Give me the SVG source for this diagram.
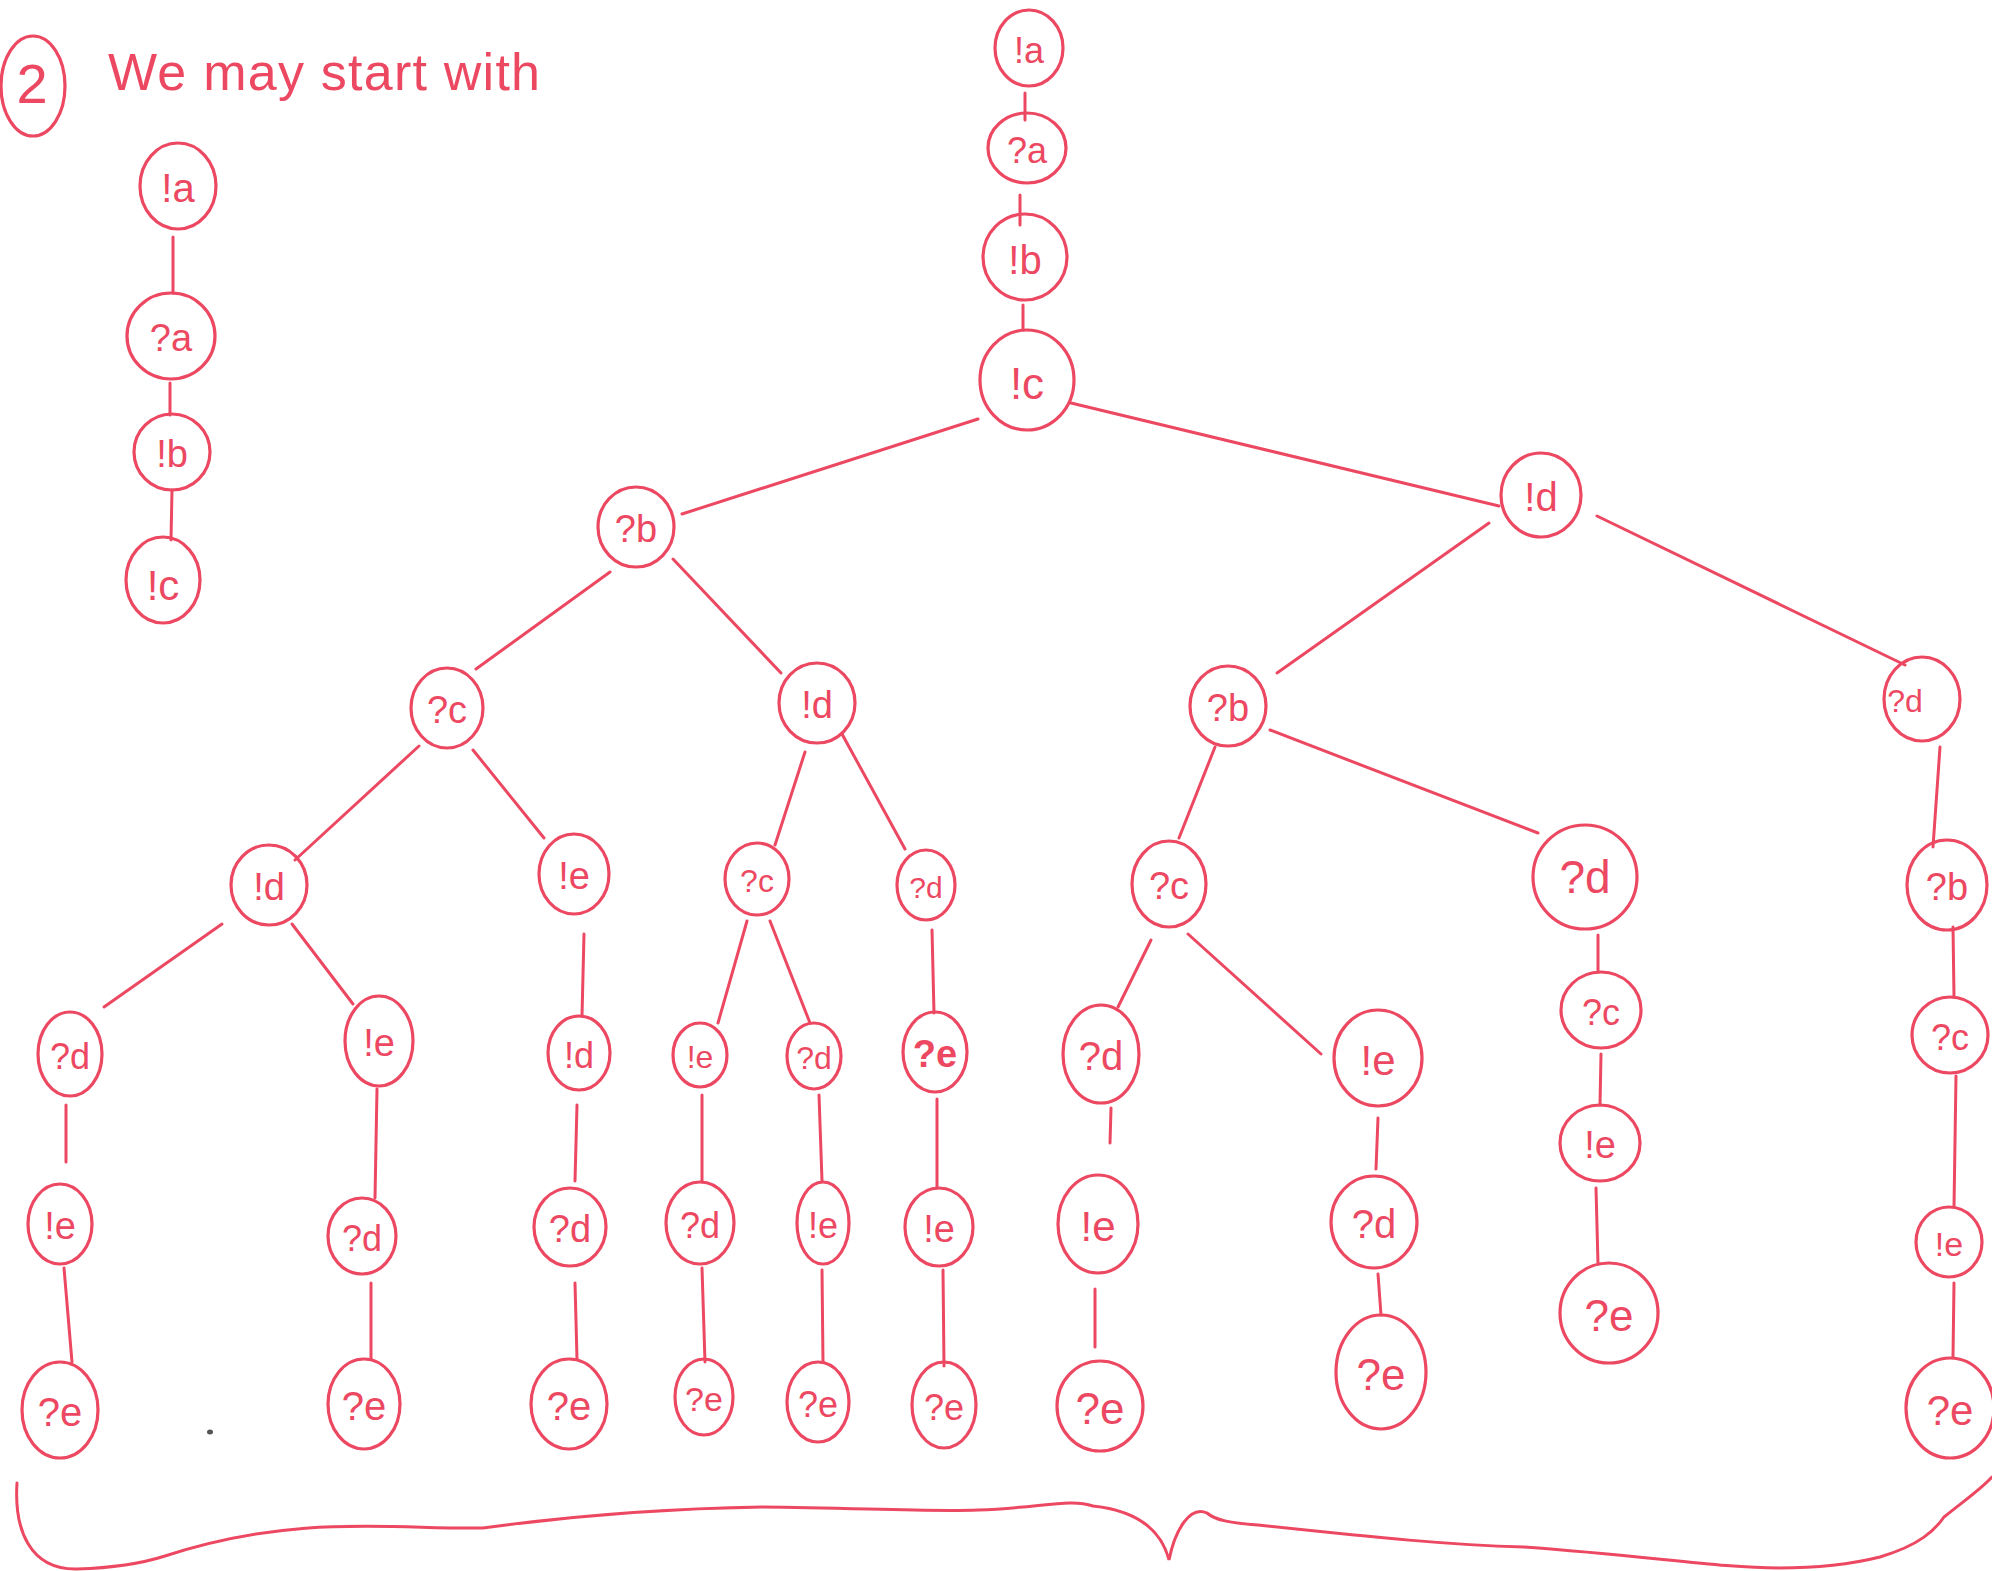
<svg xmlns="http://www.w3.org/2000/svg" width="1992" height="1571" viewBox="0 0 1992 1571">
<style>
.n{fill:none;stroke:#ec4862;stroke-width:3.2}
.e{fill:none;stroke:#ec4862;stroke-width:3;stroke-linecap:round}
.t{font-family:"Liberation Sans","DejaVu Sans",sans-serif;fill:#ec4862;text-anchor:middle;dominant-baseline:central}
</style>
<rect width="1992" height="1571" fill="#ffffff"/>
<g id="title">
<ellipse class="n" cx="33" cy="86" rx="32" ry="50"/>
<text class="t" x="32" y="83" font-size="56">2</text>
<text x="108" y="90" font-size="52" textLength="432" lengthAdjust="spacing" style="font-family:'Liberation Sans','DejaVu Sans',sans-serif;fill:#ec4862">We may start with</text>
</g>
<g id="connectors">
<line class="e" x1="173" y1="237" x2="173" y2="293"/>
<line class="e" x1="170" y1="383" x2="170" y2="415"/>
<line class="e" x1="172" y1="490" x2="171" y2="540"/>
<line class="e" x1="1025" y1="93" x2="1025" y2="120"/>
<line class="e" x1="1020" y1="195" x2="1020" y2="225"/>
<line class="e" x1="1023" y1="305" x2="1023" y2="330"/>
<line class="e" x1="978" y1="419" x2="682" y2="514"/>
<line class="e" x1="1071" y1="403" x2="1499" y2="506"/>
<line class="e" x1="610" y1="572" x2="476" y2="669"/>
<line class="e" x1="673" y1="559" x2="781" y2="673"/>
<line class="e" x1="1489" y1="523" x2="1277" y2="673"/>
<line class="e" x1="1597" y1="516" x2="1905" y2="665"/>
<line class="e" x1="419" y1="746" x2="295" y2="860"/>
<line class="e" x1="473" y1="750" x2="544" y2="838"/>
<line class="e" x1="805" y1="752" x2="775" y2="845"/>
<line class="e" x1="842" y1="734" x2="905" y2="849"/>
<line class="e" x1="1215" y1="747" x2="1179" y2="838"/>
<line class="e" x1="1270" y1="730" x2="1538" y2="833"/>
<line class="e" x1="1940" y1="747" x2="1933" y2="847"/>
<line class="e" x1="222" y1="924" x2="104" y2="1007"/>
<line class="e" x1="292" y1="924" x2="353" y2="1004"/>
<line class="e" x1="584" y1="934" x2="582" y2="1016"/>
<line class="e" x1="747" y1="921" x2="718" y2="1023"/>
<line class="e" x1="770" y1="921" x2="810" y2="1023"/>
<line class="e" x1="932" y1="930" x2="934" y2="1013"/>
<line class="e" x1="1151" y1="940" x2="1118" y2="1007"/>
<line class="e" x1="1188" y1="934" x2="1321" y2="1054"/>
<line class="e" x1="1598" y1="935" x2="1598" y2="972"/>
<line class="e" x1="1953" y1="927" x2="1954" y2="997"/>
<line class="e" x1="66" y1="1105" x2="66" y2="1162"/>
<line class="e" x1="377" y1="1089" x2="375" y2="1198"/>
<line class="e" x1="577" y1="1105" x2="575" y2="1181"/>
<line class="e" x1="702" y1="1095" x2="702" y2="1181"/>
<line class="e" x1="819" y1="1095" x2="822" y2="1181"/>
<line class="e" x1="937" y1="1099" x2="937" y2="1188"/>
<line class="e" x1="1111" y1="1108" x2="1110" y2="1143"/>
<line class="e" x1="1378" y1="1118" x2="1376" y2="1169"/>
<line class="e" x1="1601" y1="1054" x2="1600" y2="1105"/>
<line class="e" x1="1956" y1="1076" x2="1954" y2="1207"/>
<line class="e" x1="64" y1="1268" x2="72" y2="1362"/>
<line class="e" x1="371" y1="1283" x2="371" y2="1359"/>
<line class="e" x1="575" y1="1283" x2="577" y2="1359"/>
<line class="e" x1="702" y1="1268" x2="705" y2="1362"/>
<line class="e" x1="822" y1="1270" x2="823" y2="1362"/>
<line class="e" x1="943" y1="1270" x2="944" y2="1366"/>
<line class="e" x1="1095" y1="1289" x2="1095" y2="1347"/>
<line class="e" x1="1378" y1="1274" x2="1381" y2="1315"/>
<line class="e" x1="1596" y1="1188" x2="1598" y2="1264"/>
<line class="e" x1="1954" y1="1283" x2="1953" y2="1357"/>
</g>
<g id="L_a1"><ellipse class="n" cx="178" cy="186" rx="38" ry="43"/><text class="t" x="178" y="188" font-size="40">!a</text></g>
<g id="L_a2"><ellipse class="n" cx="171" cy="336" rx="44" ry="43"/><text class="t" x="171" y="338" font-size="38">?a</text></g>
<g id="L_b1"><ellipse class="n" cx="172" cy="452" rx="38" ry="38"/><text class="t" x="172" y="454" font-size="38">!b</text></g>
<g id="L_c1"><ellipse class="n" cx="163" cy="580" rx="37" ry="43"/><text class="t" x="163" y="585" font-size="42">!c</text></g>
<g id="M_a1"><ellipse class="n" cx="1029" cy="48" rx="34" ry="38"/><text class="t" x="1029" y="50" font-size="36">!a</text></g>
<g id="M_a2"><ellipse class="n" cx="1027" cy="148" rx="39" ry="35"/><text class="t" x="1027" y="150" font-size="36">?a</text></g>
<g id="M_b1"><ellipse class="n" cx="1025" cy="257" rx="42" ry="43"/><text class="t" x="1025" y="260" font-size="40">!b</text></g>
<g id="M_c1"><ellipse class="n" cx="1027" cy="380" rx="47" ry="50"/><text class="t" x="1027" y="383" font-size="44">!c</text></g>
<g id="n_b2"><ellipse class="n" cx="636" cy="527" rx="38" ry="40"/><text class="t" x="636" y="529" font-size="38">?b</text></g>
<g id="n_d1"><ellipse class="n" cx="1541" cy="495" rx="40" ry="42"/><text class="t" x="1541" y="497" font-size="40">!d</text></g>
<g id="n_c2a"><ellipse class="n" cx="447" cy="708" rx="36" ry="40"/><text class="t" x="447" y="710" font-size="38">?c</text></g>
<g id="n_d1a"><ellipse class="n" cx="817" cy="703" rx="38" ry="40"/><text class="t" x="817" y="705" font-size="38">!d</text></g>
<g id="n_b2b"><ellipse class="n" cx="1228" cy="706" rx="38" ry="40"/><text class="t" x="1228" y="708" font-size="38">?b</text></g>
<g id="n_d2b"><ellipse class="n" cx="1922" cy="699" rx="38" ry="42"/><text class="t" x="1905" y="701" font-size="32">?d</text></g>
<g id="n_d1c"><ellipse class="n" cx="269" cy="885" rx="38" ry="40"/><text class="t" x="269" y="887" font-size="38">!d</text></g>
<g id="n_e1c"><ellipse class="n" cx="574" cy="874" rx="35" ry="40"/><text class="t" x="574" y="876" font-size="38">!e</text></g>
<g id="n_c2d"><ellipse class="n" cx="757" cy="879" rx="32" ry="36"/><text class="t" x="757" y="881" font-size="32">?c</text></g>
<g id="n_d2d"><ellipse class="n" cx="926" cy="885" rx="29" ry="35"/><text class="t" x="926" y="887" font-size="30">?d</text></g>
<g id="n_c2e"><ellipse class="n" cx="1169" cy="884" rx="37" ry="43"/><text class="t" x="1169" y="886" font-size="38">?c</text></g>
<g id="n_d2e"><ellipse class="n" cx="1585" cy="877" rx="52" ry="52"/><text class="t" x="1585" y="877" font-size="46">?d</text></g>
<g id="n_b2f"><ellipse class="n" cx="1947" cy="885" rx="40" ry="45"/><text class="t" x="1947" y="887" font-size="38">?b</text></g>
<g id="r5_1"><ellipse class="n" cx="70" cy="1054" rx="32" ry="42"/><text class="t" x="70" y="1056" font-size="36">?d</text></g>
<g id="r5_2"><ellipse class="n" cx="379" cy="1041" rx="34" ry="45"/><text class="t" x="379" y="1043" font-size="38">!e</text></g>
<g id="r5_3"><ellipse class="n" cx="579" cy="1053" rx="31" ry="37"/><text class="t" x="579" y="1055" font-size="36">!d</text></g>
<g id="r5_4"><ellipse class="n" cx="700" cy="1055" rx="27" ry="32"/><text class="t" x="700" y="1057" font-size="32">!e</text></g>
<g id="r5_5"><ellipse class="n" cx="814" cy="1056" rx="27" ry="33"/><text class="t" x="814" y="1058" font-size="32">?d</text></g>
<g id="r5_6"><ellipse class="n" cx="935" cy="1052" rx="32" ry="40"/><text class="t" x="935" y="1054" font-size="38" font-weight="bold">?e</text></g>
<g id="r5_7"><ellipse class="n" cx="1101" cy="1054" rx="38" ry="49"/><text class="t" x="1101" y="1056" font-size="40">?d</text></g>
<g id="r5_8"><ellipse class="n" cx="1378" cy="1058" rx="44" ry="48"/><text class="t" x="1378" y="1060" font-size="42">!e</text></g>
<g id="r5_9"><ellipse class="n" cx="1601" cy="1010" rx="40" ry="38"/><text class="t" x="1601" y="1012" font-size="36">?c</text></g>
<g id="r5_10"><ellipse class="n" cx="1950" cy="1035" rx="38" ry="38"/><text class="t" x="1950" y="1037" font-size="36">?c</text></g>
<g id="r6_1"><ellipse class="n" cx="60" cy="1224" rx="32" ry="40"/><text class="t" x="60" y="1226" font-size="38">!e</text></g>
<g id="r6_2"><ellipse class="n" cx="362" cy="1236" rx="34" ry="38"/><text class="t" x="362" y="1238" font-size="36">?d</text></g>
<g id="r6_3"><ellipse class="n" cx="570" cy="1227" rx="36" ry="39"/><text class="t" x="570" y="1229" font-size="38">?d</text></g>
<g id="r6_4"><ellipse class="n" cx="700" cy="1223" rx="34" ry="41"/><text class="t" x="700" y="1225" font-size="36">?d</text></g>
<g id="r6_5"><ellipse class="n" cx="823" cy="1223" rx="26" ry="41"/><text class="t" x="823" y="1225" font-size="36">!e</text></g>
<g id="r6_6"><ellipse class="n" cx="939" cy="1227" rx="34" ry="39"/><text class="t" x="939" y="1229" font-size="38">!e</text></g>
<g id="r6_7"><ellipse class="n" cx="1098" cy="1224" rx="40" ry="49"/><text class="t" x="1098" y="1226" font-size="42">!e</text></g>
<g id="r6_8"><ellipse class="n" cx="1374" cy="1222" rx="43" ry="46"/><text class="t" x="1374" y="1224" font-size="40">?d</text></g>
<g id="r6_9"><ellipse class="n" cx="1600" cy="1143" rx="40" ry="38"/><text class="t" x="1600" y="1145" font-size="38">!e</text></g>
<g id="r6_10"><ellipse class="n" cx="1949" cy="1242" rx="33" ry="35"/><text class="t" x="1949" y="1244" font-size="34">!e</text></g>
<g id="r7_1"><ellipse class="n" cx="60" cy="1410" rx="38" ry="48"/><text class="t" x="60" y="1412" font-size="40">?e</text></g>
<g id="r7_2"><ellipse class="n" cx="364" cy="1404" rx="36" ry="45"/><text class="t" x="364" y="1406" font-size="40">?e</text></g>
<g id="r7_3"><ellipse class="n" cx="569" cy="1404" rx="38" ry="45"/><text class="t" x="569" y="1406" font-size="40">?e</text></g>
<g id="r7_4"><ellipse class="n" cx="704" cy="1397" rx="29" ry="38"/><text class="t" x="704" y="1399" font-size="34">?e</text></g>
<g id="r7_5"><ellipse class="n" cx="818" cy="1402" rx="31" ry="40"/><text class="t" x="818" y="1404" font-size="36">?e</text></g>
<g id="r7_6"><ellipse class="n" cx="944" cy="1405" rx="32" ry="43"/><text class="t" x="944" y="1407" font-size="36">?e</text></g>
<g id="r7_7"><ellipse class="n" cx="1100" cy="1406" rx="43" ry="45"/><text class="t" x="1100" y="1408" font-size="44">?e</text></g>
<g id="r7_8"><ellipse class="n" cx="1381" cy="1372" rx="45" ry="57"/><text class="t" x="1381" y="1374" font-size="44">?e</text></g>
<g id="r7_9"><ellipse class="n" cx="1609" cy="1313" rx="49" ry="50"/><text class="t" x="1609" y="1315" font-size="44">?e</text></g>
<g id="r7_10"><ellipse class="n" cx="1950" cy="1408" rx="44" ry="50"/><text class="t" x="1950" y="1410" font-size="42">?e</text></g>
<g id="brace">
<path class="e" d="M17 1483 C 14 1530 30 1570 77 1569 C 110 1568 140 1564 165 1556 C 300 1512 400 1530 483 1528 C 600 1512 700 1508 762 1507 C 860 1508 930 1512 978 1510 C 1040 1508 1070 1498 1093 1506 C 1130 1510 1160 1525 1169 1560 C 1175 1530 1190 1505 1207 1513 C 1215 1520 1230 1523 1258 1525 C 1380 1538 1450 1545 1524 1547 C 1650 1556 1720 1568 1779 1568 C 1830 1568 1860 1562 1880 1557 C 1920 1545 1935 1530 1944 1517 C 1965 1500 1980 1490 1992 1477"/>
</g>
<ellipse cx="210" cy="1432" rx="3" ry="2.5" fill="#555555"/>
</svg>
